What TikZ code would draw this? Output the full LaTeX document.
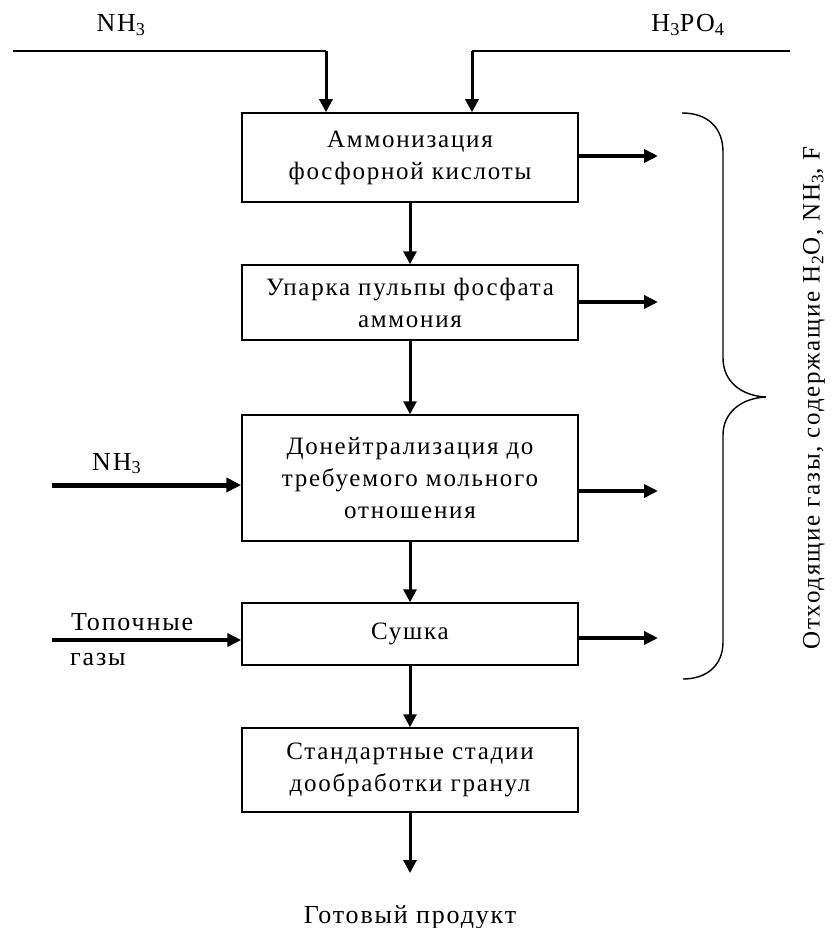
\documentclass[tikz,border=0pt]{standalone}
\usepackage{fontspec}
\setmainfont{Liberation Serif}[LetterSpace=7]
\usetikzlibrary{arrows.meta}
\begin{document}
\begin{tikzpicture}[x=1pt,y=-1pt,
  every node/.style={font=\fontsize{25}{32}\selectfont, inner sep=0pt},
  stage/.style={draw, line width=1.5pt, minimum width=336pt, align=center},
  thinline/.style={line width=1.5pt},
  flow/.style={line width=3pt, -{Triangle[length=13pt,width=13pt]}},
  outflow/.style={line width=3.5pt, -{Triangle[length=14pt,width=13pt]}},
  heavy/.style={line width=5pt, -{Triangle[length=15pt,width=14pt]}},
  lbl/.style={font=\fontsize{26}{28}\selectfont}]
\useasboundingbox (0,0) rectangle (834,928);

% stages
\node[stage, minimum height=89pt]  (b1) at (410,157.5) {Аммонизация\\фосфорной кислоты};
\node[stage, minimum height=75pt]  (b2) at (410,302.5) {Упарка пульпы фосфата\\аммония};
\node[stage, minimum height=126pt] (b3) at (410,478)   {Донейтрализация до\\требуемого мольного\\отношения};
\node[stage, minimum height=62pt]  (b4) at (410,634)   {Сушка};
\node[stage, minimum height=84pt]  (b5) at (410,770)   {Стандартные стадии\\дообработки гранул};

% top inputs
\coordinate (tl) at (13,51);
\coordinate (tlc) at (326,51);
\coordinate (tr) at (790,51);
\coordinate (trc) at (472,51);
\node[lbl, anchor=base] (nh3top) at (121,32) {NH\textsubscript{3}};
\node[lbl, anchor=base] (h3po4) at (688,32) {H\textsubscript{3}PO\textsubscript{4}};
\draw[thinline] (tl) -- (tlc);
\draw[thinline] (tr) -- (trc);
\draw[flow] (tlc) -- (tlc |- b1.north);
\draw[flow] (trc) -- (trc |- b1.north);

% vertical flow
\draw[flow] (b1.south) -- (b2.north);
\draw[flow] (b2.south) -- (b3.north);
\draw[flow] (b3.south) -- (b4.north);
\draw[flow] (b4.south) -- (b5.north);
\coordinate (prod) at (410,873);
\draw[flow] (b5.south) -- (prod);
\node[lbl, anchor=base] (prodlbl) at (410,923) {Готовый продукт};

% side inputs
\coordinate (n2) at (52,485);
\draw[heavy] (n2) -- (n2 -| b3.west);
\node[lbl, anchor=base west] (nh3mid) at (92,470) {NH\textsubscript{3}};
\coordinate (fg) at (52,640);
\draw[outflow] (fg) -- (fg -| b4.west);
\node[lbl, anchor=base west] (fg1) at (71,630) {Топочные};
\node[lbl, anchor=base west] (fg2) at (70,665) {газы};

% off-gas outputs
\coordinate (g1) at (658,156);
\coordinate (g2) at (658,302);
\coordinate (g3) at (658,491);
\coordinate (g4) at (658,638);
\draw[outflow] (b1.east |- g1) -- (g1);
\draw[outflow] (b2.east |- g2) -- (g2);
\draw[outflow] (b3.east |- g3) -- (g3);
\draw[outflow] (b4.east |- g4) -- (g4);

% brace
\draw[line width=1.4pt] (682,113) .. controls (708,113) and (723,128) .. (723,152)
  -- (723,358) .. controls (723,382) and (742,396) .. (766,397)
  .. controls (742,398) and (723,412) .. (723,435)
  -- (723,642) .. controls (723,666) and (706,679) .. (683,679);
\node[rotate=90] (gas) at (814,398)
  {Отходящие газы, содержащие H\textsubscript{2}O, NH\textsubscript{3}, F};
\end{tikzpicture}
\end{document}
